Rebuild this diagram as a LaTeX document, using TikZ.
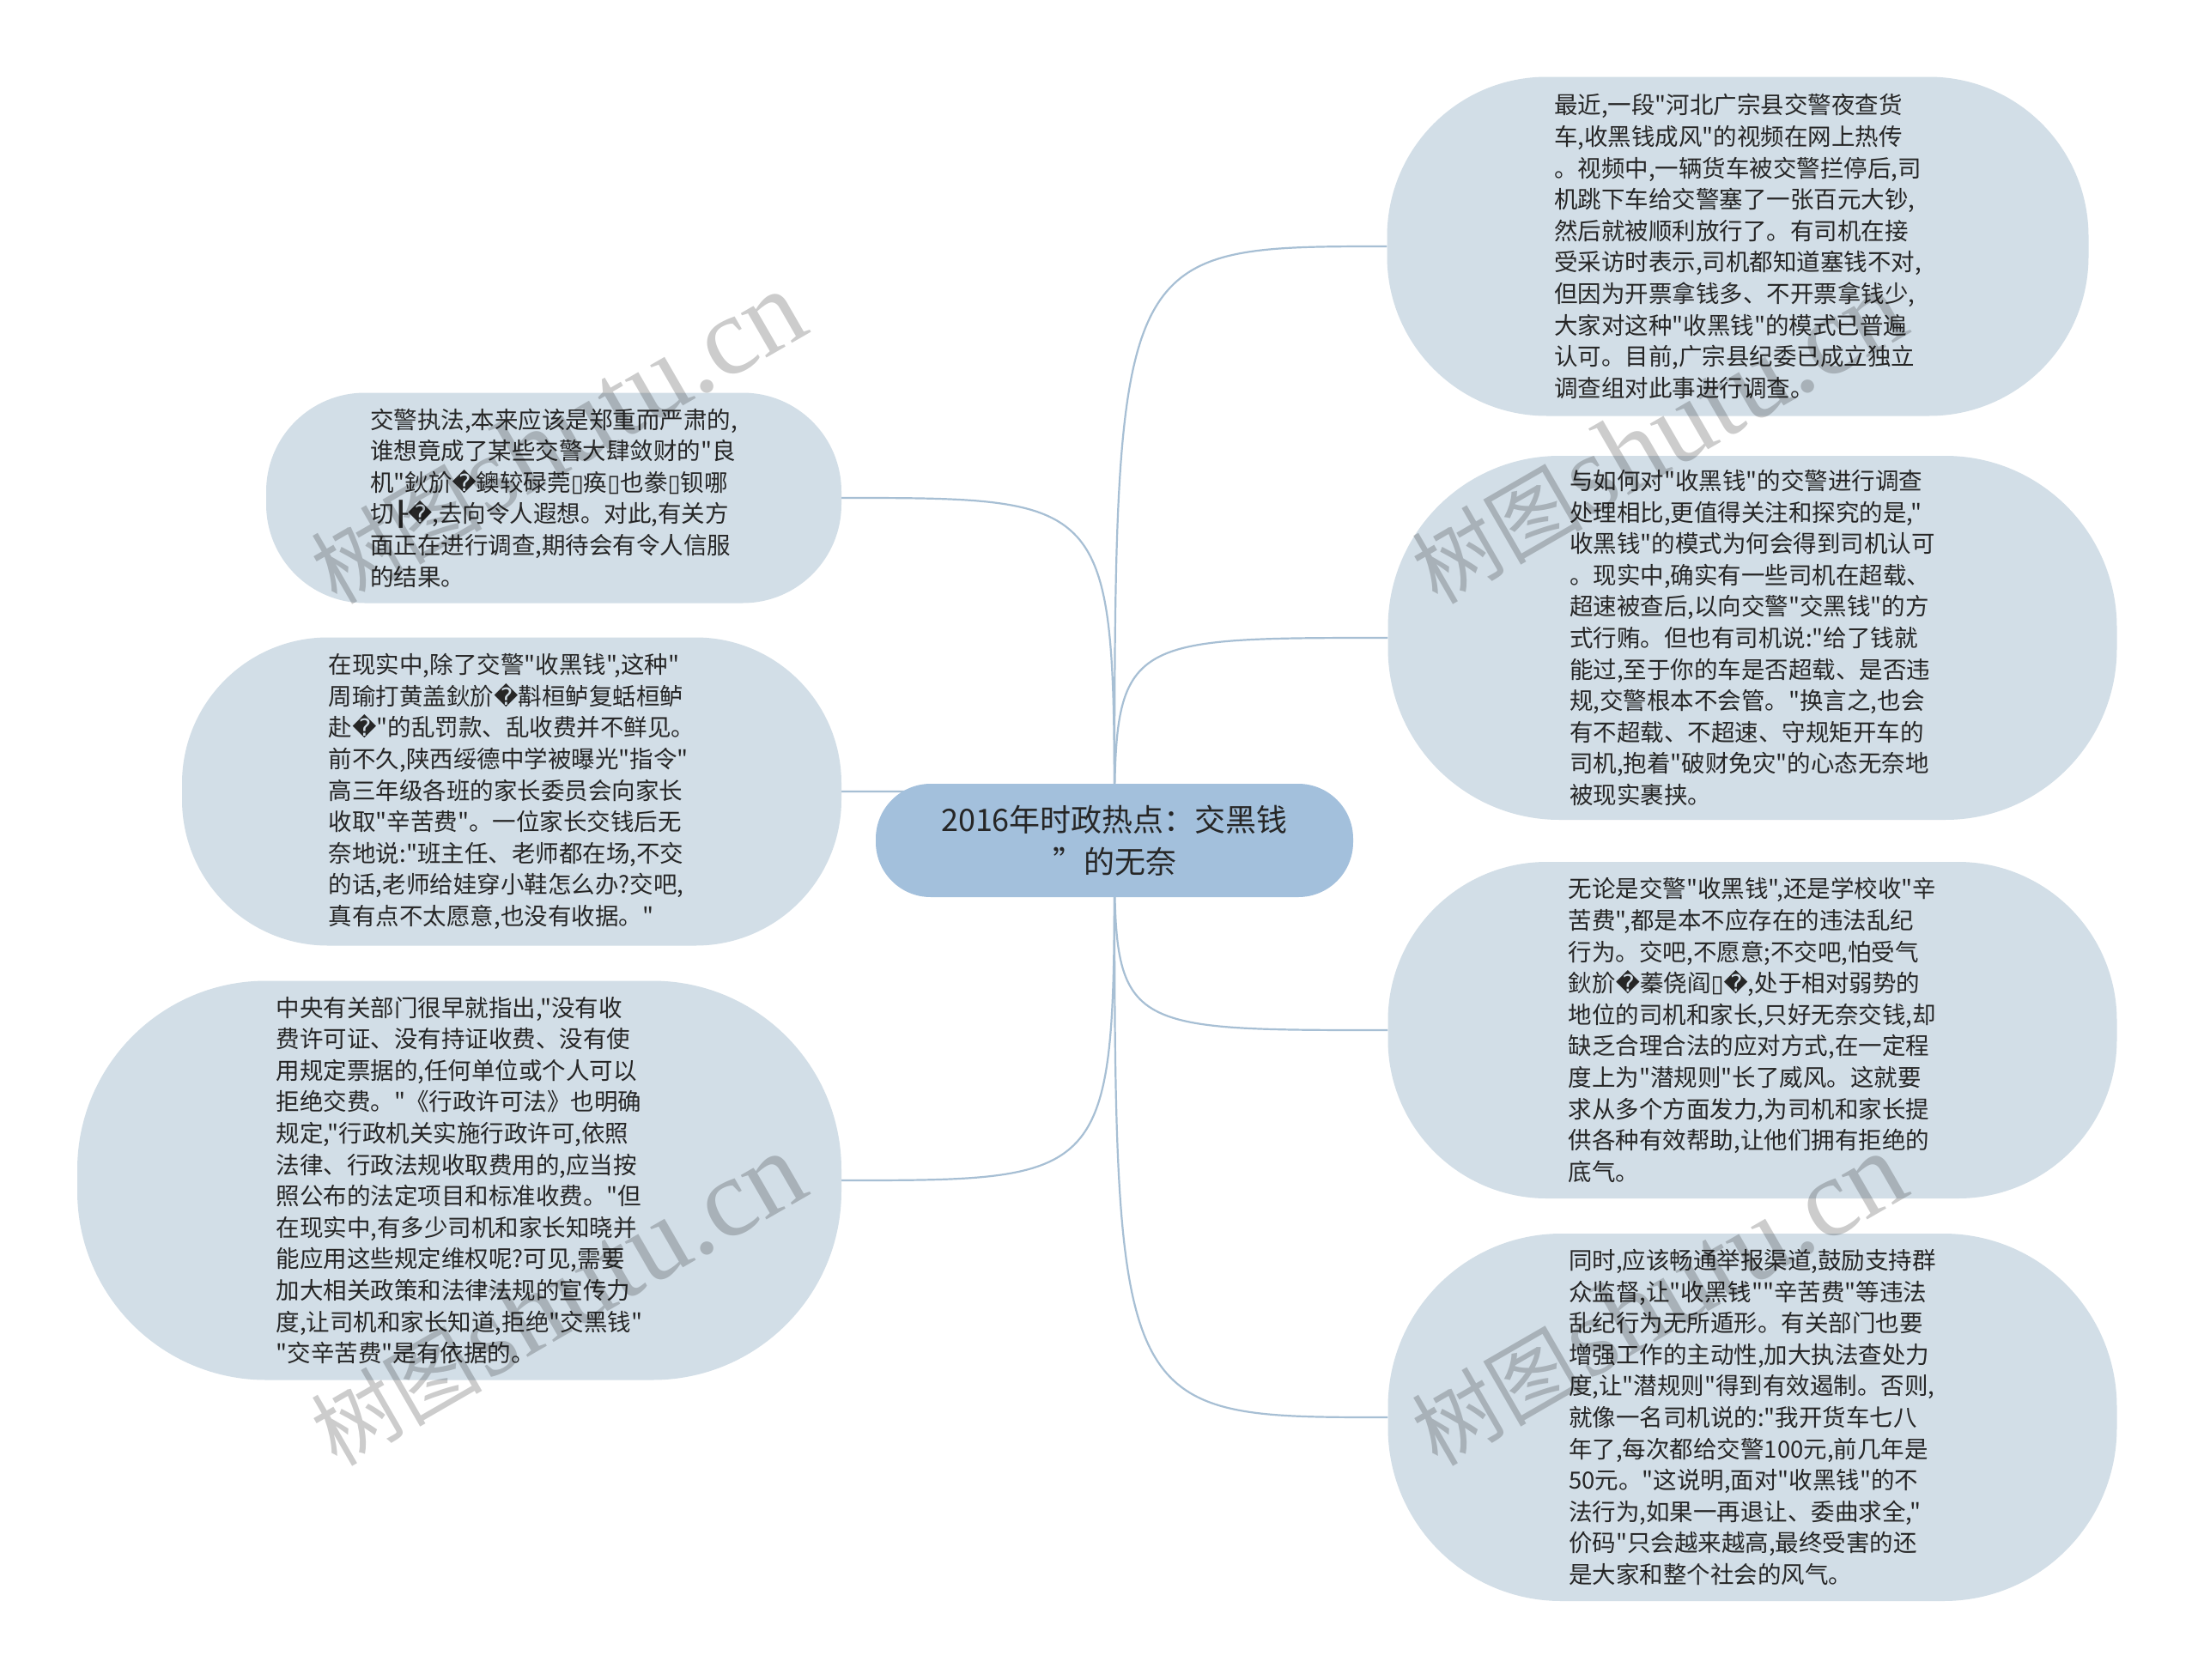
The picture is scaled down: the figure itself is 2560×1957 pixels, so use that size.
\documentclass[tikz,border=0pt]{standalone}
\usepackage{fontspec}
\newfontfamily\cjk{Noto Sans CJK SC}
\newfontfamily\dvs{DejaVu Sans}
\newfontfamily\wmserif{Liberation Serif}
\usetikzlibrary{backgrounds}
\newcommand\rpl{{\dvs\char"FFFD}}
\newcommand\tfu{{\dvs\char"25AF}}
\newcommand\bxd{{\dvs\char"2520}}
\definecolor{leaffill}{HTML}{D2DEE7}
\definecolor{rootfill}{HTML}{A3C0DC}
\definecolor{linec}{HTML}{A7BFD4}
\definecolor{txt}{HTML}{262626}
\begin{document}
\begin{tikzpicture}[x=1pt,y=-1pt,
  leafbox/.style={draw=none, fill=leaffill, align=left, text=txt, inner sep=0pt,
    font=\cjk\fontsize{27.5}{36.6}\selectfont},
  rootbox/.style={draw=none, fill=rootfill, align=center, text=txt, inner sep=0pt,
    font=\cjk\fontsize{36}{49}\selectfont},
  conn/.style={draw=linec, line width=2.2pt},
  wm/.style={text=black, opacity=0.2, inner sep=0pt}]
\useasboundingbox (0,0) rectangle (2560,1957);

\node[rootbox, minimum width=556pt, minimum height=132pt, rounded corners=64pt] (c) at (1298,979)
  {2016年时政热点：交黑钱\\”的无奈};

\node[leafbox, minimum width=817pt, minimum height=395pt, rounded corners=186pt] (r1) at (2024,287) {%
最近,一段"河北广宗县交警夜查货\\
车,收黑钱成风"的视频在网上热传\\
。视频中,一辆货车被交警拦停后,司\\
机跳下车给交警塞了一张百元大钞,\\
然后就被顺利放行了。有司机在接\\
受采访时表示,司机都知道塞钱不对,\\
但因为开票拿钱多、不开票拿钱少,\\
大家对这种"收黑钱"的模式已普遍\\
认可。目前,广宗县纪委已成立独立\\
调查组对此事进行调查。};

\node[leafbox, minimum width=849pt, minimum height=424pt, rounded corners=200pt] (r2) at (2041,743) {%
与如何对"收黑钱"的交警进行调查\\
处理相比,更值得关注和探究的是,"\\
收黑钱"的模式为何会得到司机认可\\
。现实中,确实有一些司机在超载、\\
超速被查后,以向交警"交黑钱"的方\\
式行贿。但也有司机说:"给了钱就\\
能过,至于你的车是否超载、是否违\\
规,交警根本不会管。"换言之,也会\\
有不超载、不超速、守规矩开车的\\
司机,抱着"破财免灾"的心态无奈地\\
被现实裹挟。};

\node[leafbox, minimum width=849pt, minimum height=392pt, rounded corners=185pt] (r3) at (2041,1200) {%
无论是交警"收黑钱",还是学校收"辛\\
苦费",都是本不应存在的违法乱纪\\
行为。交吧,不愿意;不交吧,怕受气\\
鈥斺\rpl 蓁侥阎\tfu\rpl,处于相对弱势的\\
地位的司机和家长,只好无奈交钱,却\\
缺乏合理合法的应对方式,在一定程\\
度上为"潜规则"长了威风。这就要\\
求从多个方面发力,为司机和家长提\\
供各种有效帮助,让他们拥有拒绝的\\
底气。};

\node[leafbox, minimum width=849pt, minimum height=428pt, rounded corners=202pt] (r4) at (2041,1651) {%
同时,应该畅通举报渠道,鼓励支持群\\
众监督,让"收黑钱""辛苦费"等违法\\
乱纪行为无所遁形。有关部门也要\\
增强工作的主动性,加大执法查处力\\
度,让"潜规则"得到有效遏制。否则,\\
就像一名司机说的:"我开货车七八\\
年了,每次都给交警100元,前几年是\\
50元。"这说明,面对"收黑钱"的不\\
法行为,如果一再退让、委曲求全,"\\
价码"只会越来越高,最终受害的还\\
是大家和整个社会的风气。};

\node[leafbox, minimum width=670pt, minimum height=245pt, rounded corners=115pt] (l1) at (645,580) {%
交警执法,本来应该是郑重而严肃的,\\
谁想竟成了某些交警大肆敛财的"良\\
机"鈥斺\rpl 鐭较碌莞\tfu 痪\tfu 也豢\tfu 钡哪\\
切\bxd\rpl,去向令人遐想。对此,有关方\\
面正在进行调查,期待会有令人信服\\
的结果。};

\node[leafbox, minimum width=768pt, minimum height=359pt, rounded corners=170pt] (l2) at (596,922) {%
在现实中,除了交警"收黑钱",这种"\\
周瑜打黄盖鈥斺\rpl 斠桓鲈复蛞桓鲈\\
赴\rpl"的乱罚款、乱收费并不鲜见。\\
前不久,陕西绥德中学被曝光"指令"\\
高三年级各班的家长委员会向家长\\
收取"辛苦费"。一位家长交钱后无\\
奈地说:"班主任、老师都在场,不交\\
的话,老师给娃穿小鞋怎么办?交吧,\\
真有点不太愿意,也没有收据。"};

\node[leafbox, minimum width=890pt, minimum height=465pt, rounded corners=220pt] (l3) at (535,1375) {%
中央有关部门很早就指出,"没有收\\
费许可证、没有持证收费、没有使\\
用规定票据的,任何单位或个人可以\\
拒绝交费。"《行政许可法》也明确\\
规定,"行政机关实施行政许可,依照\\
法律、行政法规收取费用的,应当按\\
照公布的法定项目和标准收费。"但\\
在现实中,有多少司机和家长知晓并\\
能应用这些规定维权呢?可见,需要\\
加大相关政策和法律法规的宣传力\\
度,让司机和家长知道,拒绝"交黑钱"\\
"交辛苦费"是有依据的。};

\begin{scope}[on background layer]
\fill[white] (0,0) rectangle (2560,1957);
\foreach \n in {r1,r2,r3,r4}
  \draw[conn] (c.center) .. controls (c.center |- \n.west) .. (\n.west);
\foreach \n in {l1,l2,l3}
  \draw[conn] (c.center) .. controls (c.center |- \n.east) .. (\n.east);
\end{scope}

\foreach \p/\nm in {{(649,510)}/w1, {(1931,510)}/w2, {(649,1514)}/w3, {(1931,1514)}/w4}
  \node[wm, rotate=30] (\nm) at \p {{\cjk\fontsize{100}{100}\selectfont 树图} {\wmserif\fontsize{130}{130}\selectfont shutu.cn}};
\end{tikzpicture}
\end{document}
